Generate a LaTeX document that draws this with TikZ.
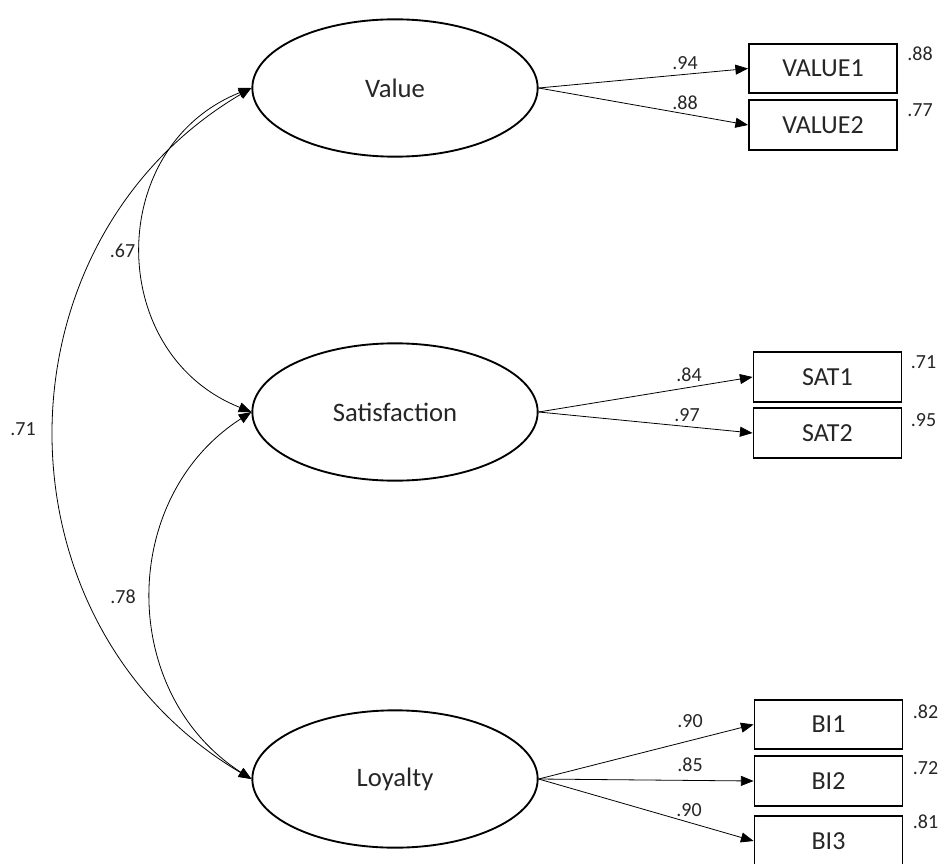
\documentclass[tikz,border=0pt]{standalone}
\usepackage{fontspec}
\setmainfont{Carlito}
\usetikzlibrary{shapes.geometric,arrows.meta}

\begin{document}
\begin{tikzpicture}[x=0.75pt,y=-0.75pt,
  latent/.style={draw, ellipse, line width=1.4pt, minimum width=214pt, minimum height=103pt,
    inner sep=0pt, text=black!85, font=\fontsize{20}{24}\selectfont},
  observed/.style={draw, rectangle, line width=1.4pt, minimum width=111pt, minimum height=37pt,
    inner sep=0pt, text=black!85, font=\fontsize{19.5}{23}\selectfont},
  coef/.style={inner sep=0pt, text=black!85, font=\fontsize{15}{18}\selectfont},
  tip/.tip={Triangle[length=9.5pt,width=7.5pt]},
  loading/.style={line width=0.6pt, -tip},
  cov/.style={line width=0.6pt, tip-tip}
]
\useasboundingbox (0,0) rectangle (941,863);

% latent factors
\node[latent] (val) at (395,88)  {Value};
\node[latent] (sat) at (395,412) {Satisfaction};
\node[latent] (loy) at (395,779) {Loyalty};

% indicators
\node[observed] (v1) at (823,68.5)  {VALUE1};
\node[observed] (v2) at (823,125)   {VALUE2};
\node[observed] (s1) at (827.5,377) {SAT1};
\node[observed] (s2) at (827.5,433) {SAT2};
\node[observed] (b1) at (828.5,724.5) {BI1};
\node[observed] (b2) at (828.5,781)   {BI2};
\node[observed] (b3) at (828.5,841)   {BI3};

% factor loadings
\draw[loading] (val.east) -- (v1.west);
\draw[loading] (val.east) -- (v2.west);
\draw[loading] (sat.east) -- (s1.west);
\draw[loading] (sat.east) -- (s2.west);
\draw[loading] (loy.east) -- (b1.west);
\draw[loading] (loy.east) -- (b2.west);
\draw[loading] (loy.east) -- (b3.west);

\node[coef] (lv1) at (685,63)    {.94};
\node[coef] (lv2) at (685,102.5) {.88};
\node[coef] (ls1) at (689,374.5) {.84};
\node[coef] (ls2) at (687,415)   {.97};
\node[coef] (lb1) at (690,721)   {.90};
\node[coef] (lb2) at (690,765)   {.85};
\node[coef] (lb3) at (689,810)   {.90};

% squared multiple correlations
\node[coef] (rv1) at (920,54)    {.88};
\node[coef] (rv2) at (920,110)   {.77};
\node[coef] (rs1) at (923.5,362.5) {.71};
\node[coef] (rs2) at (923.5,420) {.95};
\node[coef] (rb1) at (925.5,712) {.82};
\node[coef] (rb2) at (925.5,768) {.72};
\node[coef] (rb3) at (925.5,822) {.81};

% factor correlations
\draw[cov] (val.west) .. controls +(-146.5,58.3) and +(-146.5,-58.3) .. (sat.west);
\draw[cov] (sat.west) .. controls +(-133.2,85.7) and +(-133.2,-85.7) .. (loy.west);
\draw[cov] (val.west) .. controls +(-262.3,155.1) and +(-262.3,-155.1) .. (loy.west);

\node[coef] (cvs) at (122.5,251) {.67};
\node[coef] (csl) at (123,597)   {.78};
\node[coef] (cvl) at (23,429)    {.71};
\end{tikzpicture}
\end{document}
